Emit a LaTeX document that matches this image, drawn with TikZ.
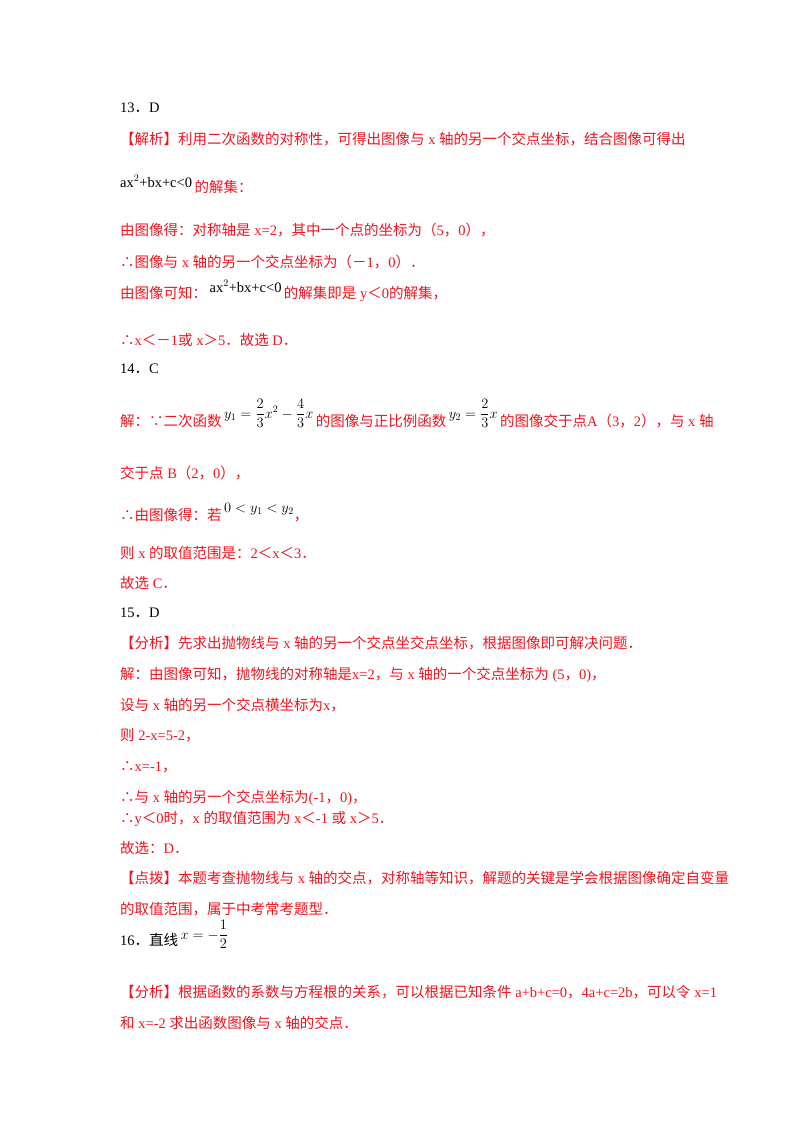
\documentclass[tikz,border=0pt]{standalone}
\usepackage{amsmath}
\usepackage{fontspec}
\setmainfont{Liberation Serif}
\newfontfamily\cjk{Noto Sans CJK SC}
\definecolor{rd}{RGB}{240,20,30}
\newcommand{\C}[1]{{\cjk #1}}
\begin{document}
\begin{tikzpicture}[x=1pt,y=-1pt,
  ln/.style={anchor=base west,inner sep=0pt,font=\fontsize{14.5}{16}\selectfont,text=rd},
  bk/.style={ln,text=black}]
\fill[white] (0,0) rectangle (800,1132);
\node[bk] (a1) at (120,112) {13\C{．}D};
\node[ln] (a2) at (120,144) {\C{【解析】利用二次函数的对称性，可得出图像与} x \C{轴的另一个交点坐标，结合图像可得出}};
\node[ln] (a3) at (120,187) {\textcolor{black}{ax$^{2}$+bx+c<0}\,\raisebox{-5pt}{\C{的解集：}}};
\node[ln] (a4) at (120,235) {\C{由图像得：对称轴是} x=2\C{，其中一个点的坐标为（}5\C{，}0\C{），}};
\node[ln] (a5) at (120,267) {\C{∴图像与} x \C{轴的另一个交点坐标为（－}1\C{，}0\C{）．}};
\node[ln] (a6) at (120,298) {\C{由图像可知：}\raisebox{6pt}{\textcolor{black}{\,ax$^{2}$+bx+c<0}}\,\C{的解集即是} y\C{＜}0\C{的解集，}};
\node[ln] (a7) at (120,345) {\C{∴}x\C{＜－}1\C{或} x\C{＞}5\C{．故选} D\C{．}};
\node[bk] (b1) at (120,373) {14\C{．}C};
\node[ln] (b2) at (120,426) {\C{解：∵二次函数}\,\raisebox{8pt}{\textcolor{black}{$y_1=\dfrac{2}{3}x^2-\dfrac{4}{3}x$}}\,\C{的图像与正比例函数}\,\raisebox{8pt}{\textcolor{black}{$y_2=\dfrac{2}{3}x$}}\,\C{的图像交于点}A\C{（}3\C{，}2\C{），与} x \C{轴}};
\node[ln] (b3) at (120,478) {\C{交于点} B\C{（}2\C{，}0\C{），}};
\node[ln] (b4) at (120,520) {\C{∴由图像得：若}\,\raisebox{8pt}{\textcolor{black}{$0<y_1<y_2$}}\C{，}};
\node[ln] (b5) at (120,558) {\C{则} x \C{的取值范围是：}2\C{＜}x\C{＜}3\C{．}};
\node[ln] (b6) at (120,588) {\C{故选} C\C{．}};
\node[bk] (c1) at (120,617) {15\C{．}D};
\node[ln] (c2) at (120,648) {\C{【分析】先求出抛物线与} x \C{轴的另一个交点坐交点坐标，根据图像即可解决问题．}};
\node[ln] (c3) at (120,679) {\C{解：由图像可知，抛物线的对称轴是}x=2\C{，与} x \C{轴的一个交点坐标为} (5\C{，}0)\C{，}};
\node[ln] (c4) at (120,710) {\C{设与} x \C{轴的另一个交点横坐标为}x\C{，}};
\node[ln] (c5) at (120,740) {\C{则} 2-x=5-2\C{，}};
\node[ln] (c6) at (120,771) {\C{∴}x=-1\C{，}};
\node[ln] (c7) at (120,802) {\C{∴与} x \C{轴的另一个交点坐标为}(-1\C{，}0)\C{，}};
\node[ln] (c8) at (120,823) {\C{∴}y\C{＜}0\C{时，}x \C{的取值范围为} x\C{＜}-1 \C{或} x\C{＞}5\C{．}};
\node[ln] (c9) at (120,853) {\C{故选：}D\C{．}};
\node[ln] (c10) at (120,883) {\C{【点拨】本题考查抛物线与} x \C{轴的交点，对称轴等知识，解题的关键是学会根据图像确定自变量}};
\node[ln] (c11) at (120,914) {\C{的取值范围，属于中考常考题型．}};
\node[bk] (d1) at (120,945) {16\C{．直线}\,\raisebox{6pt}{$x=-\dfrac{1}{2}$}};
\node[ln] (d2) at (120,997) {\C{【分析】根据函数的系数与方程根的关系，可以根据已知条件} a+b+c=0\C{，}4a+c=2b\C{，可以令} x=1};
\node[ln] (d3) at (120,1028) {\C{和} x=-2 \C{求出函数图像与} x \C{轴的交点．}};
\end{tikzpicture}
\end{document}
